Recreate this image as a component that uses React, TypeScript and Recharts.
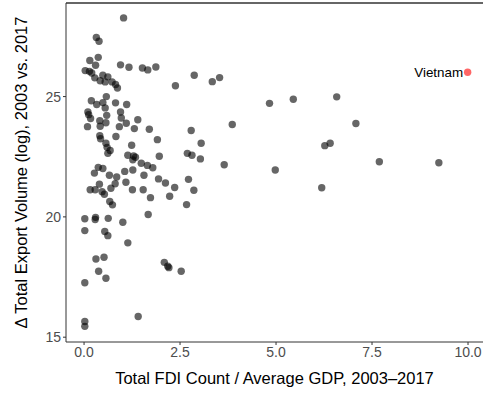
import {
  LabelList,
  ReferenceLine,
  Scatter,
  ScatterChart,
  XAxis,
  YAxis,
} from "recharts";

// FDI count per average GDP (x) and change in log export volume (y), one entry per country
const fdiRatio = [
  1.03, 0.32, 0.39, 0.37, 0.15, 0.3, 0.03, 0.14, 0.2, 0.28, 0.42, 0.49, 0.62,
  0.55, 0.73, 0.82, 0.87, 0.95, 1.17, 1.52, 1.66, 1.87, 2.38, 0.58, 0.19, 0.33,
  0.49, 0.55, 0.82, 1.11, 0.1, 0.12, 0.17, 0.59, 0.57, 0.41, 0.42, 0.09, 0.95,
  0.97, 1.1, 0.92, 1.31, 1.4, 1.7, 0.41, 0.83, 0.43, 0.57, 1.91, 0.6, 0.68,
  0.62, 1.24, 1.14, 1.29, 1.34, 1.27, 1.49, 1.65, 1.79, 1.96, 0.37, 0.49, 0.27,
  0.66, 1.06, 1.27, 1.56, 0.85, 0.4, 0.81, 1.09, 0.16, 0.29, 0.47, 0.53, 0.7,
  1.26, 1.54, 1.73, 1.94, 2.12, 2.23, 2.36, 0.67, 0.74, 0.02, 0.3, 0.29, 0.63,
  1.01, 1.67, 0.02, 0.54, 0.62, 1.14, 0.31, 0.52, 0.38, 0.57, 0.02, 2.09, 2.18,
  2.21, 1.41, 0.02, 0.02, 2.53, 2.72, 2.86, 2.67, 2.87, 3.34, 3.53, 4.83, 5.45,
  3.86, 2.79, 3.05, 2.69, 2.81, 3.03, 3.65, 4.98, 6.58, 7.08, 6.27, 6.41, 7.69,
  9.24, 6.19,
];
const exportChange = [
  28.27, 27.46, 27.3, 26.63, 26.5, 26.3, 26.08, 26.05, 25.98, 25.78, 25.66,
  25.89, 25.82, 25.61, 25.61, 25.5, 25.36, 26.32, 26.22, 26.19, 26.11, 26.23,
  25.45, 25.0, 24.83, 24.67, 24.75, 24.53, 24.74, 24.67, 24.36, 24.25, 24.09,
  24.22, 23.91, 24.0, 23.77, 23.75, 24.36, 24.11, 23.89, 23.75, 23.67, 24.04,
  23.64, 23.37, 23.34, 23.25, 23.06, 23.21, 22.89, 22.76, 22.64, 22.98, 22.56,
  22.53, 22.48, 22.37, 22.23, 22.14, 22.04, 22.52, 22.06, 22.01, 21.82, 21.73,
  21.89, 21.95, 21.73, 21.66, 21.36, 21.38, 21.44, 21.13, 21.13, 21.05, 20.94,
  21.19, 21.13, 21.13, 20.8, 21.58, 21.41, 20.86, 21.22, 20.64, 20.5, 19.92,
  19.98, 19.89, 19.94, 19.78, 20.1, 19.43, 19.39, 19.22, 18.92, 18.25, 18.32,
  17.74, 17.45, 17.26, 18.11, 17.95, 17.89, 15.86, 15.65, 15.45, 17.74, 21.56,
  21.11, 20.51, 25.89, 25.62, 25.79, 24.72, 24.89, 23.84, 23.59, 23.06, 22.64,
  22.56, 22.41, 22.17, 21.95, 24.99, 23.88, 22.96, 23.06, 22.29, 22.25, 21.21,
];

const highlightName = "Vietnam";
const highlightRatio = 9.99;
const highlightChange = 26.01;

const xTicks = [0, 2.5, 5, 7.5, 10];
const yTicks = [15, 20, 25];

const X_DOMAIN: [number, number] = [-0.47, 10.39];
const Y_DOMAIN: [number, number] = [14.8, 28.89];

const FONT = "'Liberation Sans', Arial, Helvetica, sans-serif";

const others = fdiRatio.map((x, i) => ({ x, y: exportChange[i] }));
const highlight = [{ x: highlightRatio, y: highlightChange, name: highlightName }];

const dot = (color: string) => (p: any) => (
  <circle cx={p.cx} cy={p.cy} r={3.7} fill={color} fillOpacity={0.6} />
);

export default function App() {
  return (
    <div style={{ position: "absolute", left: 0, top: 0 }}>
      <ScatterChart
        width={483}
        height={394}
        margin={{ top: 3, right: 0, bottom: 0, left: 0 }}
        style={{ fontFamily: FONT }}
      >
        <XAxis
          type="number"
          dataKey="x"
          domain={X_DOMAIN}
          ticks={xTicks}
          allowDataOverflow
          tickFormatter={(v: number) => v.toFixed(1)}
          height={52}
          tickSize={3}
          tickMargin={2}
          stroke="#333"
          tick={{ fill: "#4d4d4d", fontSize: 14 }}
          label={{
            value: "Total FDI Count / Average GDP, 2003\u20132017",
            position: "insideBottom",
            offset: 10,
            fill: "#000",
            fontSize: 16.5,
          }}
        />
        <YAxis
          type="number"
          dataKey="y"
          domain={Y_DOMAIN}
          ticks={yTicks}
          allowDataOverflow
          width={66}
          tickSize={3}
          tickMargin={2}
          stroke="#333"
          tick={{ fill: "#4d4d4d", fontSize: 14 }}
          label={{
            value: "\u0394 Total Export Volume (log), 2003 vs. 2017",
            angle: -90,
            position: "insideLeft",
            offset: 21,
            fill: "#000",
            fontSize: 16.5,
            style: { textAnchor: "middle" },
          }}
        />
        <ReferenceLine y={Y_DOMAIN[1]} stroke="#333" strokeWidth={1.3} />
        <Scatter
          data={others}
          shape={dot("#000")}
          isAnimationActive={false}
        />
        <Scatter
          data={highlight}
          shape={dot("#ff0000")}
          isAnimationActive={false}
        >
          <LabelList
            dataKey="name"
            position="left"
            offset={0}
            fill="#000"
            fontSize={13.4}
          />
        </Scatter>
      </ScatterChart>
    </div>
  );
}
